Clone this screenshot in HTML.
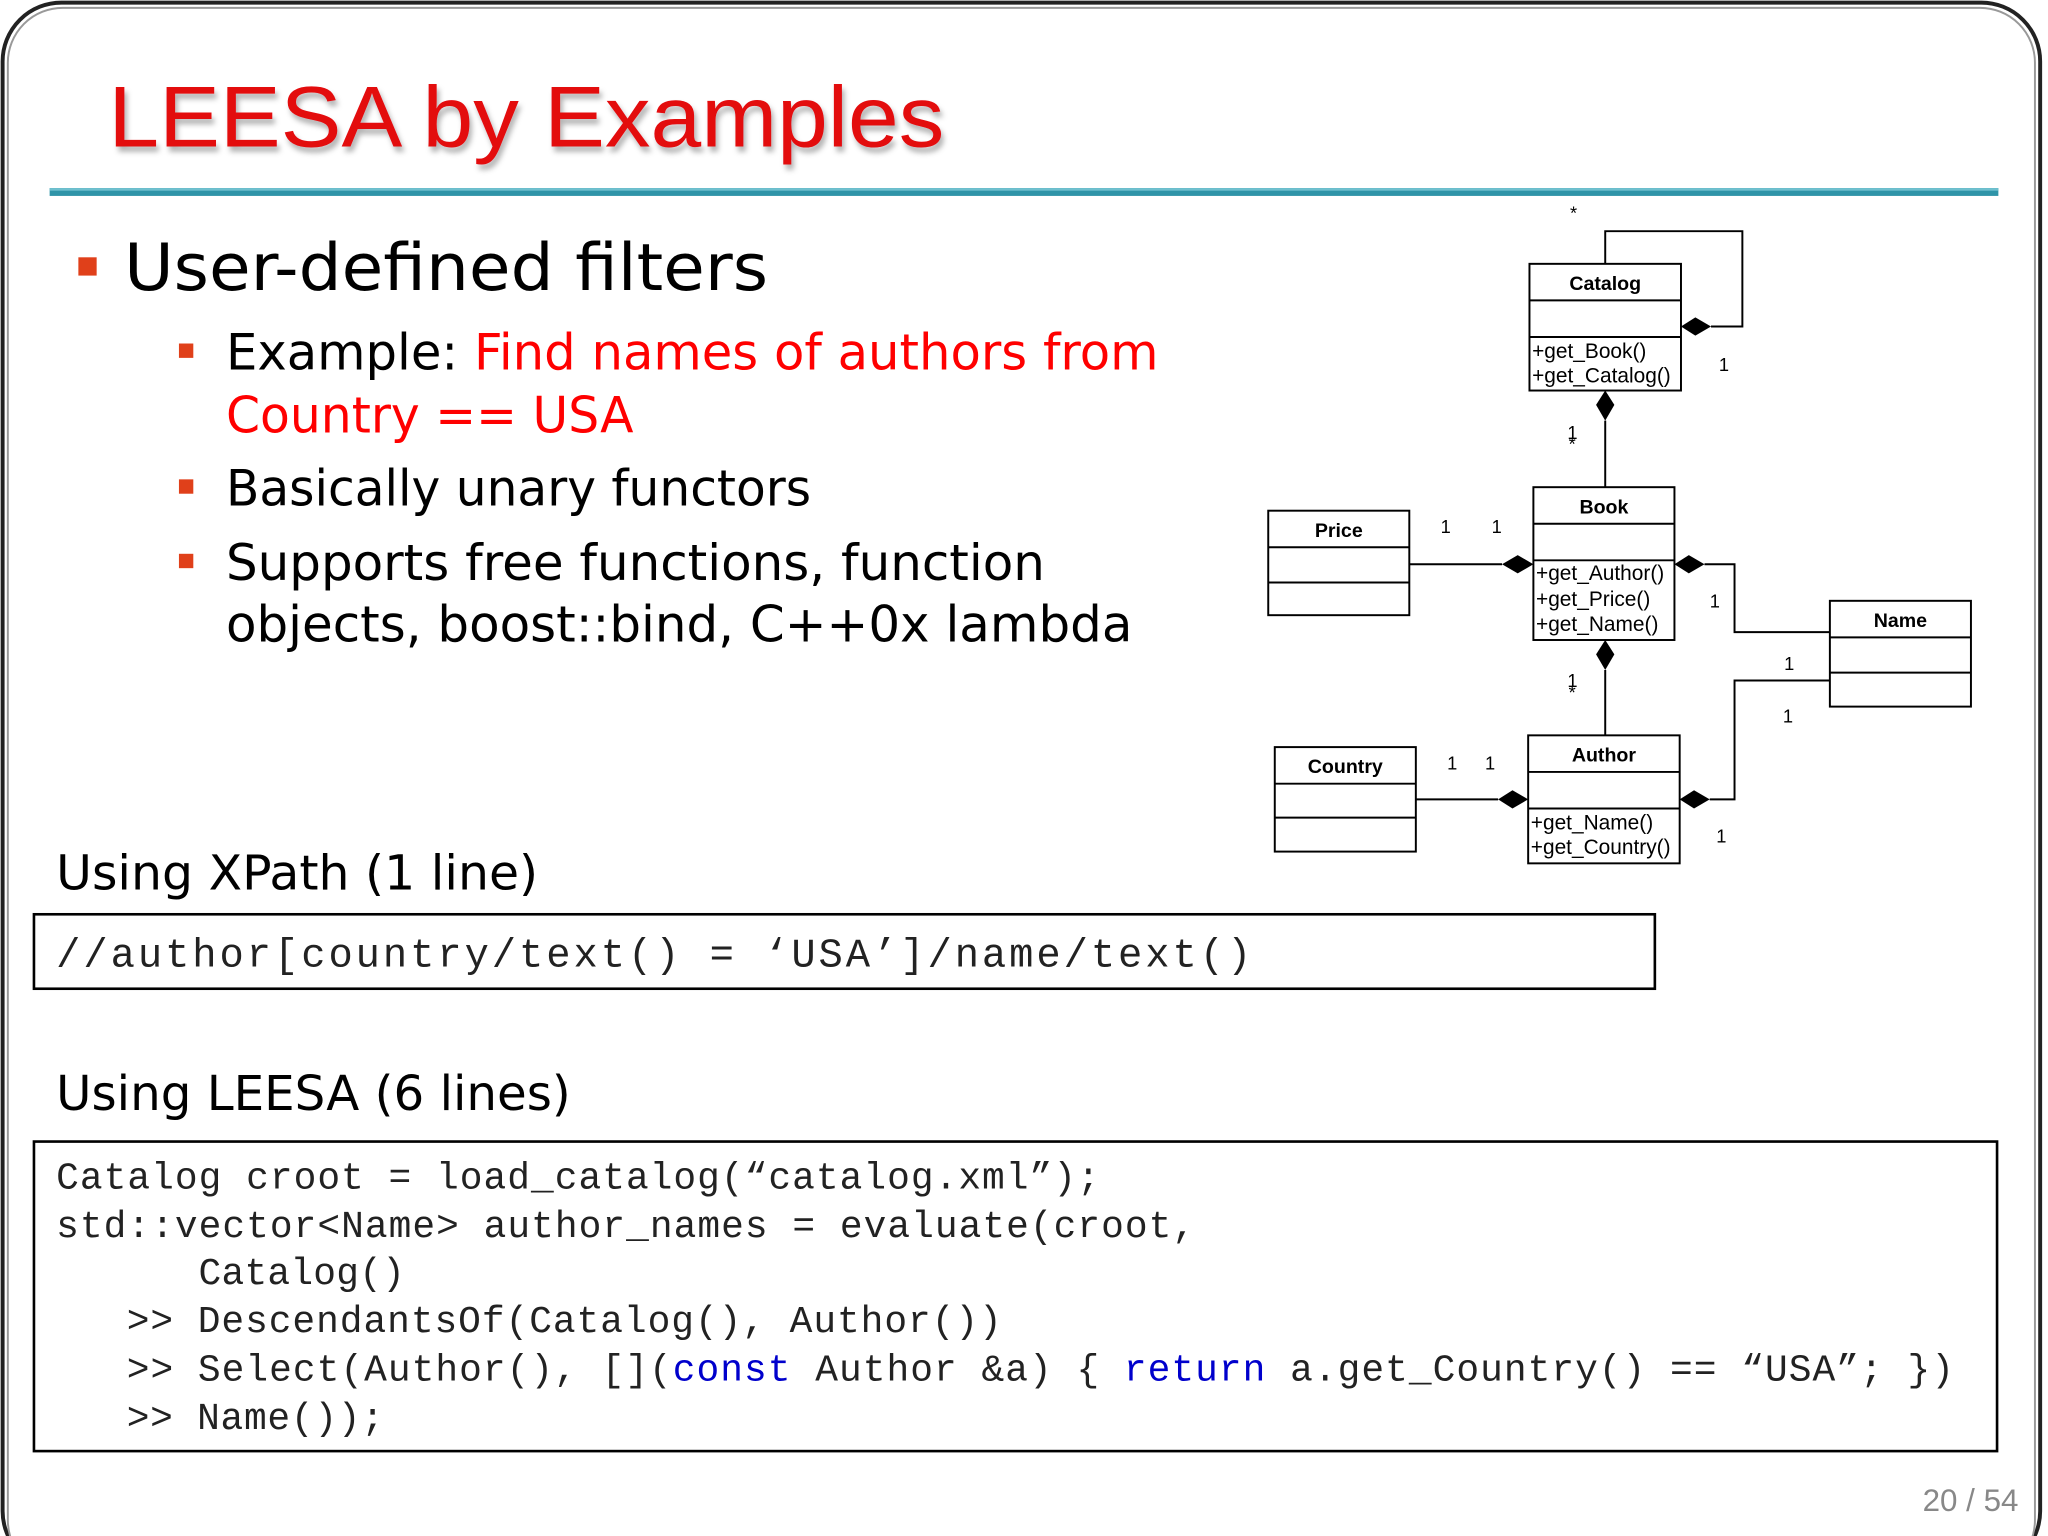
<!DOCTYPE html>
<html><head><meta charset="utf-8"><style>
html,body{margin:0;padding:0;background:#fff;}
svg{display:block;}
</style></head><body>
<svg width="2048" height="1536" viewBox="0 0 1568 1176" xmlns="http://www.w3.org/2000/svg">
<defs>
<filter id="sh" x="-5%" y="-20%" width="110%" height="150%"><feDropShadow dx="2" dy="4" stdDeviation="2" flood-color="#000" flood-opacity="0.3"/></filter>
</defs>
<rect width="1568" height="1176" fill="#fff"/>
<rect x="2" y="2" width="1560" height="1200" rx="45" fill="none" stroke="#222" stroke-width="3"/>
<rect x="6" y="6" width="1552" height="1200" rx="42" fill="none" stroke="#999" stroke-width="1.5"/>
<text x="83" y="112" font-family="Liberation Sans, sans-serif" font-size="66" fill="#e3070f" filter="url(#sh)" textLength="640" lengthAdjust="spacingAndGlyphs">LEESA by Examples</text>
<rect x="38" y="144" width="1492" height="6" fill="#2f94a8"/>
<rect x="38" y="144" width="1492" height="2" fill="#6fc0cf"/>

<g font-family="DejaVu Sans, sans-serif" fill="#000">
<rect x="60" y="197" width="14" height="14" fill="#e0401a"/>
<text x="95" y="222" font-size="50" textLength="493" lengthAdjust="spacingAndGlyphs">User-defined filters</text>
<rect x="137" y="263" width="11" height="11" fill="#e0401a"/>
<text x="173" y="283" font-size="38" textLength="714" lengthAdjust="spacingAndGlyphs">Example: <tspan fill="#f00">Find names of authors from</tspan></text>
<text x="173" y="331" font-size="38" fill="#f00" textLength="312" lengthAdjust="spacingAndGlyphs">Country == USA</text>
<rect x="137" y="367" width="11" height="11" fill="#e0401a"/>
<text x="173" y="387" font-size="38" textLength="448" lengthAdjust="spacingAndGlyphs">Basically unary functors</text>
<rect x="137" y="424" width="11" height="11" fill="#e0401a"/>
<text x="173" y="444" font-size="38" textLength="627" lengthAdjust="spacingAndGlyphs">Supports free functions, function</text>
<text x="173" y="491" font-size="38" textLength="694" lengthAdjust="spacingAndGlyphs">objects, boost::bind, C++0x lambda</text>
<text x="43" y="681" font-size="37" textLength="369" lengthAdjust="spacingAndGlyphs">Using XPath (1 line)</text>
<text x="43" y="850" font-size="37" textLength="394" lengthAdjust="spacingAndGlyphs">Using LEESA (6 lines)</text>
</g>

<rect x="26" y="700" width="1241" height="57" fill="none" stroke="#000" stroke-width="2"/>
<text x="43" y="740" font-family="Liberation Mono, monospace" font-size="31" fill="#222" textLength="915" lengthAdjust="spacing">//author[country/text() = ‘USA’]/name/text()</text>

<rect x="26" y="874" width="1503" height="237" fill="none" stroke="#000" stroke-width="2"/>
<g font-family="Liberation Mono, monospace" font-size="29" fill="#222" xml:space="preserve">
<text x="43" y="910" textLength="799" lengthAdjust="spacing">Catalog croot = load_catalog(“catalog.xml”);</text>
<text x="43" y="947" textLength="872" lengthAdjust="spacing">std::vector&lt;Name&gt; author_names = evaluate(croot,</text>
<text x="152" y="983" textLength="158" lengthAdjust="spacing">Catalog()</text>
<text x="97" y="1020" textLength="670" lengthAdjust="spacing">&gt;&gt; DescendantsOf(Catalog(), Author())</text>
<text x="97" y="1057" textLength="1399" lengthAdjust="spacing">&gt;&gt; Select(Author(), [](<tspan fill="#00c">const</tspan> Author &amp;a) { <tspan fill="#00c">return</tspan> a.get_Country() == “USA”; })</text>
<text x="97" y="1094" textLength="197" lengthAdjust="spacing">&gt;&gt; Name());</text>
</g>
<text x="1472" y="1157" font-family="Liberation Sans, sans-serif" font-size="24" fill="#888">20 / 54</text>

<!-- UML -->
<g stroke="#000" stroke-width="1.5" fill="none">
<rect x="1171" y="202" width="116" height="97"/><line x1="1171" y1="230" x2="1287" y2="230"/><line x1="1171" y1="258" x2="1287" y2="258"/>
<rect x="1174" y="373" width="108" height="117"/><line x1="1174" y1="401" x2="1282" y2="401"/><line x1="1174" y1="429" x2="1282" y2="429"/>
<rect x="971" y="391" width="108" height="80"/><line x1="971" y1="419" x2="1079" y2="419"/><line x1="971" y1="446" x2="1079" y2="446"/>
<rect x="1401" y="460" width="108" height="81"/><line x1="1401" y1="488" x2="1509" y2="488"/><line x1="1401" y1="515" x2="1509" y2="515"/>
<rect x="976" y="572" width="108" height="80"/><line x1="976" y1="600" x2="1084" y2="600"/><line x1="976" y1="626" x2="1084" y2="626"/>
<rect x="1170" y="563" width="116" height="98"/><line x1="1170" y1="591" x2="1286" y2="591"/><line x1="1170" y1="619" x2="1286" y2="619"/>
<polyline points="1229,202 1229,177 1334,177 1334,250 1310,250"/>
<line x1="1229" y1="322" x2="1229" y2="373"/>
<line x1="1079" y1="432" x2="1150" y2="432"/>
<polyline points="1305,432 1328,432 1328,484 1401,484"/>
<line x1="1229" y1="513" x2="1229" y2="563"/>
<line x1="1084" y1="612" x2="1147" y2="612"/>
<polyline points="1309,612 1328,612 1328,521 1401,521"/>
</g>
<g fill="#000">
<polygon points="1287,250 1298,243 1310,250 1298,257"/>
<polygon points="1229,299 1236,310 1229,322 1222,310"/>
<polygon points="1150,432 1162,425 1174,432 1162,439"/>
<polygon points="1282,432 1293,425 1305,432 1293,439"/>
<polygon points="1229,490 1236,501 1229,513 1222,501"/>
<polygon points="1147,612 1158,605 1170,612 1158,619"/>
<polygon points="1286,612 1297,605 1309,612 1297,619"/>
</g>
<g font-family="Liberation Sans, sans-serif" font-size="15" fill="#000">
<g font-weight="bold" text-anchor="middle">
<text x="1229" y="222">Catalog</text><text x="1228" y="393">Book</text><text x="1025" y="411">Price</text>
<text x="1455" y="480">Name</text><text x="1030" y="592">Country</text><text x="1228" y="583">Author</text>
</g>
<g font-size="16">
<text x="1173" y="274">+get_Book()</text><text x="1173" y="293">+get_Catalog()</text>
<text x="1176" y="444">+get_Author()</text><text x="1176" y="464">+get_Price()</text><text x="1176" y="483">+get_Name()</text>
<text x="1172" y="635">+get_Name()</text><text x="1172" y="654">+get_Country()</text>
</g>
<g font-size="14">
<text x="1202" y="168">*</text><text x="1316" y="284">1</text>
<text x="1200" y="336">1</text><text x="1201" y="345">*</text>
<text x="1103" y="408">1</text><text x="1142" y="408">1</text><text x="1309" y="465">1</text>
<text x="1200" y="526">1</text><text x="1201" y="535">*</text>
<text x="1108" y="589">1</text><text x="1137" y="589">1</text>
<text x="1366" y="513">1</text><text x="1365" y="553">1</text><text x="1314" y="645">1</text>
</g>
</g>
</svg>
</body></html>
